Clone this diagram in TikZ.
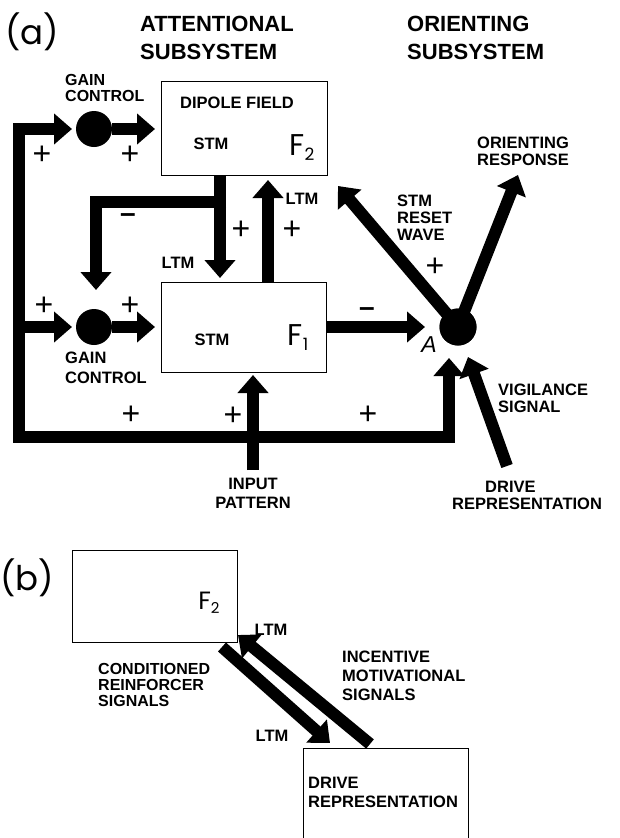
\documentclass[tikz,border=0pt]{standalone}
\usepackage{fontspec}
\setmainfont{Liberation Sans}
\newfontfamily\geo{Poppins}
\usetikzlibrary{arrows.meta}
\begin{document}
\begin{tikzpicture}[x=1pt,y=-1pt,
  lab/.style={font=\fontsize{16.5}{17}\selectfont\bfseries, inner sep=0pt, align=left},
  head/.style={font=\fontsize{22}{28}\selectfont\bfseries, inner sep=0pt, align=left},
  sgn/.style={font=\fontsize{32}{32}\selectfont, inner sep=0pt},
  fl/.style={font=\fontsize{30}{30}\geo, inner sep=0pt},
  box/.style={draw, line width=1.2pt, inner sep=0pt},
  big/.style={line width=12pt, line join=miter, -{Triangle[width=30pt,length=18pt]}},
  dot/.style={circle, fill, inner sep=0pt, minimum size=#1},
  ]
\clip (0,0) rectangle (619,838);
% ---------- (a) ----------
\node[font=\fontsize{34}{34}\geo, inner sep=0pt] (la) at (32,32) {(a)};
\node[head, anchor=west] (hatt) at (140,38) {ATTENTIONAL\\SUBSYSTEM};
\node[head, anchor=west] (hori) at (407,38) {ORIENTING\\SUBSYSTEM};

\node[box, minimum width=166pt, minimum height=94pt, anchor=north west] (f2) at (161,81) {};
\node[box, minimum width=165pt, minimum height=90pt, anchor=north west] (f1) at (161,282) {};
\node[lab, anchor=west] (dip) at (180,103) {DIPOLE FIELD};
\node[lab] (stm2) at (211,144) {STM};
\node[fl] (lf2) at (302,148) {F\raisebox{-5pt}{\fontsize{17}{17}\selectfont 2}};
\node[lab] (stm1) at (212,340) {STM};
\node[fl] (lf1) at (298,338) {F\raisebox{-5pt}{\fontsize{17}{17}\selectfont 1}};

\node[dot=36pt] (g2) at (94,129) {};
\node[dot=36pt] (g1) at (94,327) {};
\node[dot=37pt] (A) at (458,327) {};

\node[lab, anchor=west, font=\fontsize{16}{16}\selectfont\bfseries] (gc2) at (65,88) {GAIN\\CONTROL};
\node[lab, anchor=west, font=\fontsize{16.5}{20}\selectfont\bfseries] (gc1) at (65,368) {GAIN\\CONTROL};
\node[lab] (ltm1) at (302,199) {LTM};
\node[lab] (ltm2) at (178,263) {LTM};
\node[lab, anchor=west] (reset) at (397,218) {STM\\RESET\\WAVE};
\node[lab, anchor=west] (oresp) at (477,151) {ORIENTING\\RESPONSE};
\node[lab, anchor=west] (vig) at (498,398) {VIGILANCE\\SIGNAL};
\node[lab, anchor=west] (drv) at (452,495) {\hspace*{33pt}DRIVE\\REPRESENTATION};
\node[lab, align=center, font=\fontsize{16.5}{19}\selectfont\bfseries] (inp) at (253,493) {INPUT\\PATTERN};
\node[font=\fontsize{23}{23}\selectfont\itshape, inner sep=0pt] (lA) at (429,345) {A};

% signs
\node[sgn] (p1) at (42,155) {+};
\node[sgn] (p2) at (130,155) {+};
\node[sgn] (p3) at (241,230) {+};
\node[sgn] (p4) at (292,230) {+};
\node[sgn] (p5) at (44,306) {+};
\node[sgn] (p6) at (130,306) {+};
\node[sgn] (p7) at (131,415) {+};
\node[sgn] (p8) at (233,416) {+};
\node[sgn] (p9) at (368,415) {+};
\node[sgn] (p10) at (435,267) {+};
\node[sgn, font=\fontsize{28}{28}\selectfont\bfseries] (m1) at (128,218) {\textendash};
\node[sgn, font=\fontsize{28}{28}\selectfont\bfseries] (m2) at (367,312) {\textendash};

% coordinates
\coordinate (tl) at (19,129);
\coordinate (bl) at (19,437);
\coordinate (blx) at (13,437);
\coordinate (ml) at (19,327);
\coordinate (br) at (449,437);
\coordinate (aIn) at (449,358);
\coordinate (g2in) at (72,129);
\coordinate (g1in) at (72,327);
\coordinate (d0) at (220,175);
\coordinate (d1) at (220,278);
\coordinate (b0) at (226,202);
\coordinate (b1) at (96,202);
\coordinate (b2) at (96,290);
\coordinate (u0) at (268,282);
\coordinate (u1) at (268,180);
\coordinate (inTail) at (253,470);
\coordinate (inTip) at (253,375);
\coordinate (f1A) at (425,327);
\coordinate (resetTip) at (338,186);
\coordinate (orTip) at (518,175);
\coordinate (vigTail) at (507,466);
\coordinate (vigTip) at (468,357);

% connectors
\draw[big] (bl) -- (tl) -- (g2in);
\draw[big] (ml) -- (g1in);
\draw[big] (blx) -- (br) -- (aIn);
\draw[big] (g2) -- ([xshift=-6pt]f2.west |- g2);
\draw[big] (g1) -- ([xshift=-6pt]f1.west |- g1);
\draw[big] (d0) -- (d1);
\draw[big] (b0) -- (b1) -- (b2);
\draw[big] (u0) -- (u1);
\draw[big] (inTail) -- (inTip);
\draw[big] (f1.east |- A) -- (f1A);
\draw[big] (A.center) -- (resetTip);
\draw[big] (A.center) -- (orTip);
\draw[big] (vigTail) -- (vigTip);
\node[dot=37pt] at (A) {};

% ---------- (b) ----------
\node[font=\fontsize{34}{34}\geo, inner sep=0pt] (lb) at (27,578) {(b)};
\node[box, minimum width=165pt, minimum height=92pt, anchor=north west] (bf2) at (72,550) {};
\node[fl, font=\fontsize{25}{25}\geo] (lbf2) at (209,603) {F\raisebox{-4pt}{\fontsize{15}{15}\selectfont 2}};
\node[box, minimum width=165pt, minimum height=130pt, anchor=north west] (bdr) at (303,748) {};
\node[lab, anchor=west, font=\fontsize{16.5}{19}\selectfont\bfseries] (bdrt) at (308,792) {DRIVE\\REPRESENTATION};
\node[lab] (bltm1) at (271,630) {LTM};
\node[lab] (bltm2) at (272,736) {LTM};
\node[lab, anchor=west, font=\fontsize{16}{16}\selectfont\bfseries] (cond) at (98,685) {CONDITIONED\\REINFORCER\\SIGNALS};
\node[lab, anchor=west, font=\fontsize{16.5}{19}\selectfont\bfseries] (inc) at (342,676) {INCENTIVE\\MOTIVATIONAL\\SIGNALS};
\coordinate (c0) at (222,647);
\coordinate (c1) at (330,743);
\coordinate (i0) at (370,744);
\coordinate (i1) at (238,635);
\draw[big] (c0) -- (c1);
\draw[big] (i0) -- (i1);
\end{tikzpicture}
\end{document}
